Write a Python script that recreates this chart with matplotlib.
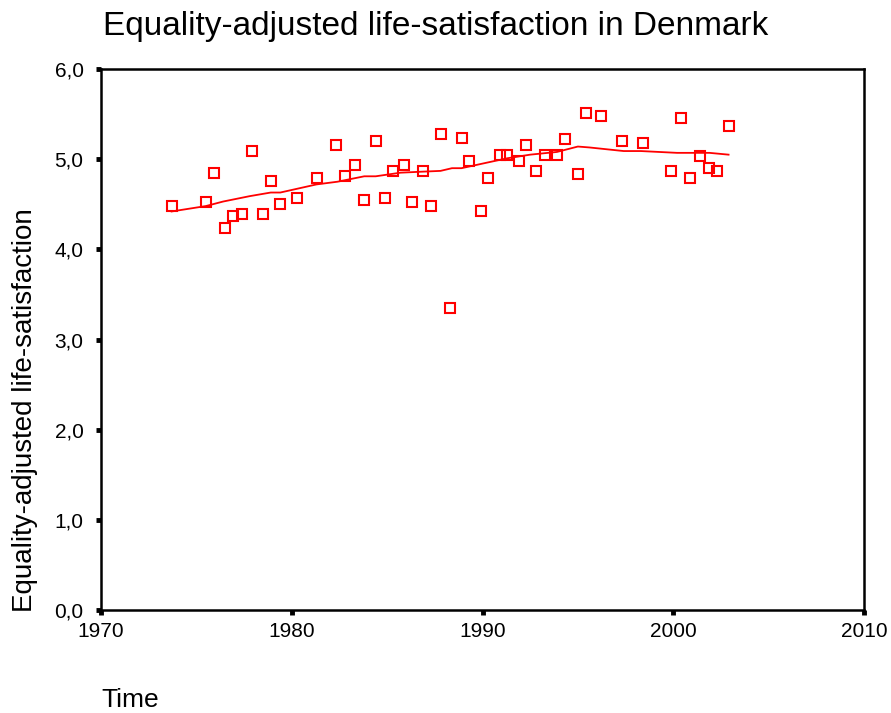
import matplotlib
matplotlib.use("Agg")
import matplotlib.pyplot as plt
from matplotlib.ticker import FuncFormatter

plt.rcParams['font.family'] = ['Liberation Sans', 'DejaVu Sans']

# Observed points (year, equality-adjusted life-satisfaction)
years = [1973.7, 1975.5, 1975.9, 1976.5, 1976.9, 1977.4, 1977.9, 1978.5, 1978.9, 1979.4,
         1980.3, 1981.3, 1982.3, 1982.8, 1983.3, 1983.8, 1984.4, 1984.9, 1985.3, 1985.9,
         1986.3, 1986.9, 1987.3, 1987.8, 1988.3, 1988.9, 1989.3, 1989.9, 1990.3, 1990.9,
         1991.3, 1991.9, 1992.3, 1992.8, 1993.3, 1993.9, 1994.3, 1995.0, 1995.4, 1996.2,
         1997.3, 1998.4, 1999.9, 2000.4, 2000.9, 2001.4, 2001.9, 2002.3, 2002.9]
values = [4.48, 4.52, 4.85, 4.24, 4.37, 4.39, 5.09, 4.39, 4.76, 4.50,
          4.57, 4.79, 5.16, 4.81, 4.94, 4.55, 5.20, 4.57, 4.87, 4.94,
          4.52, 4.87, 4.48, 5.28, 3.35, 5.24, 4.98, 4.43, 4.79, 5.05,
          5.05, 4.98, 5.16, 4.87, 5.05, 5.05, 5.22, 4.83, 5.51, 5.48,
          5.20, 5.18, 4.87, 5.46, 4.79, 5.03, 4.90, 4.87, 5.37]

# Smoothed (loess) fit line
fit_years = [1973.7, 1975.5, 1976.4, 1977.8, 1978.9, 1979.4, 1981.3, 1982.4, 1983.8,
             1984.4, 1985.7, 1986.7, 1987.8, 1988.4, 1988.9, 1990.2, 1991.3, 1992.5,
             1993.9, 1995.0, 1995.6, 1997.4, 1998.3, 2000.2, 2001.9, 2002.9]
fit_values = [4.42, 4.48, 4.53, 4.59, 4.63, 4.63, 4.72, 4.75, 4.81,
              4.81, 4.85, 4.86, 4.87, 4.90, 4.90, 4.96, 5.01, 5.05,
              5.08, 5.14, 5.13, 5.09, 5.09, 5.07, 5.07, 5.05]

x_ticks = [1970, 1980, 1990, 2000, 2010]
y_ticks = [0, 1, 2, 3, 4, 5, 6]

fig = plt.figure(figsize=(8.91, 7.13), dpi=100)
ax = fig.add_axes([101/891, 1-610/713, (864-101)/891, (610-69)/713])

ax.plot(fit_years, fit_values, color='#ff0000', lw=1.3)
ax.plot(years, values, linestyle='none', marker='s', ms=7, mfc='none',
        mec='#ff0000', mew=1.5)

ax.set_xlim(1970, 2010)
ax.set_ylim(0, 6)
ax.set_xticks(x_ticks)
ax.set_yticks(y_ticks)
ax.yaxis.set_major_formatter(FuncFormatter(lambda v, p: f"{v:.1f}".replace('.', ',')))
ax.tick_params(axis='both', direction='out', length=3.5, width=3.5, labelsize=15, color='black')
ax.tick_params(axis='y', pad=9)
ax.tick_params(axis='x', pad=5)
for s in ax.spines.values():
    s.set_linewidth(1.8)
    s.set_color('black')

fig.text(103/891, 1-27/713, "Equality-adjusted life-satisfaction in Denmark",
         fontsize=24, ha='left', va='center')
fig.text(25/891, 1-410/713, "Equality-adjusted life-satisfaction",
         fontsize=20, rotation=90, ha='center', va='center')
fig.text(101/891, 1-700/713, "Time", fontsize=19, ha='left', va='center')

fig.savefig("out.png", dpi=100)
